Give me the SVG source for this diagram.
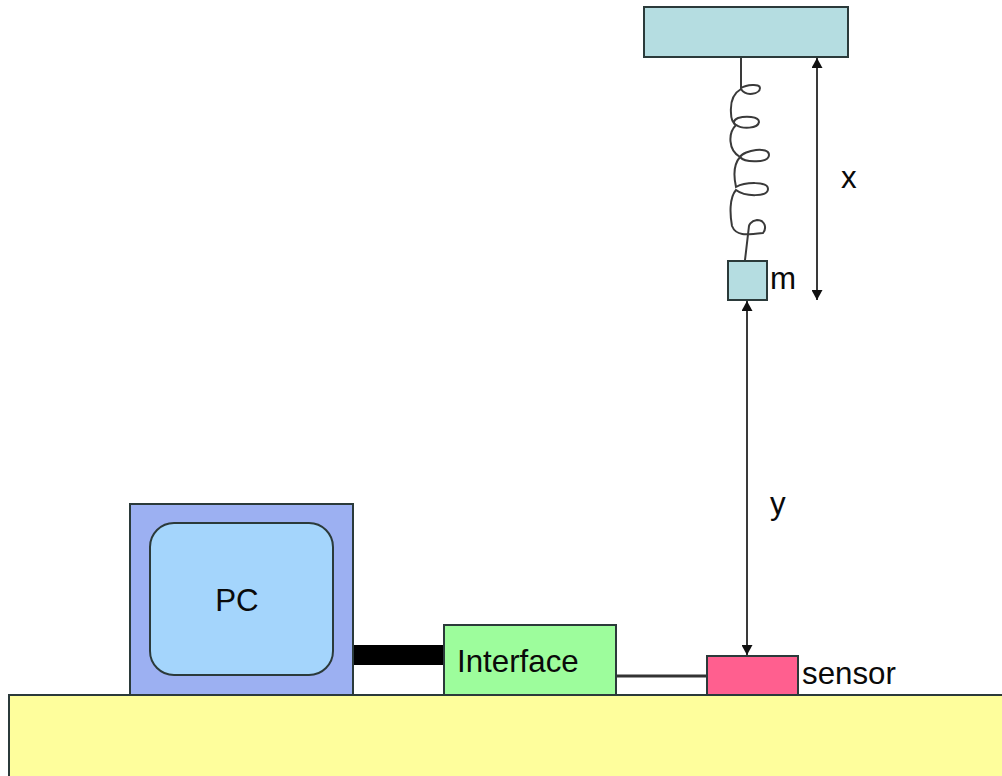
<svg xmlns="http://www.w3.org/2000/svg" width="1002" height="776" viewBox="0 0 1002 776">
<style>
.b{stroke:#2b3a3a;stroke-width:2}
.t{font-family:"Liberation Sans",Arial,sans-serif;font-size:31.3px;fill:#0a0a0a}
.w{fill:none;stroke:#3a3a3a;stroke-width:2}
</style>
<defs>
<marker id="a" markerUnits="userSpaceOnUse" markerWidth="11" markerHeight="11" refX="10" refY="5.5" orient="auto-start-reverse"><path d="M0 0L10 5.5L0 11Z" fill="#111"/></marker>
</defs>
<rect width="1002" height="776" fill="#fff"/>
<g id="connectors">
<rect x="353" y="645" width="92" height="20" fill="#000"/>
<path d="M616 676H707" fill="none" stroke="#333" stroke-width="3"/>
<path class="w" d="M817 58V300" marker-start="url(#a)" marker-end="url(#a)"/>
<path class="w" d="M747 301V655" marker-start="url(#a)" marker-end="url(#a)"/>
<path id="spring" class="w" d="M741 58V88C746 85 760 83 760 88C760 94 746 97 741 89C734 93 730 100 731 113C731 120 733 123 736 125C742 129 758 129 759 122C759 116 745 116 738 118C733 120 733 124 736 125C728 133 728 150 740 157C744 150 769 146 769 155C769 163 745 163 740 157C733 165 734 178 736 187C745 182 768 181 768 189C768 197 745 197 736 190C729 198 730 215 732 226C736 236 745 235 763 233C767 228 765 220 757 220C750 221 749 226 749 226L745 260"/>
</g>
<g id="table"><rect x="9" y="695" width="994" height="82" fill="#FEFE9C" class="b"/></g>
<g id="ceiling"><rect x="644" y="7" width="204" height="50" fill="#B5DDE1" class="b"/></g>
<g id="mass"><rect x="728" y="261" width="39" height="39" fill="#B5DDE1" class="b"/><text class="t" x="770" y="289">m</text></g>
<g id="pc"><rect x="130" y="504" width="223" height="191" fill="#9CB0F2" class="b"/><rect x="150" y="523" width="183" height="152" rx="24" fill="#A4D5FC" class="b"/><text class="t" x="237" y="611" text-anchor="middle">PC</text></g>
<g id="interface"><rect x="444" y="625" width="172" height="70" fill="#9DFD9C" class="b"/><text class="t" x="457" y="672">Interface</text></g>
<g id="sensor"><rect x="707" y="656" width="91" height="39" fill="#FF5F8F" class="b"/><text class="t" x="802" y="684">sensor</text></g>
<text class="t" x="841" y="188">x</text>
<text class="t" x="770" y="514">y</text>
</svg>
